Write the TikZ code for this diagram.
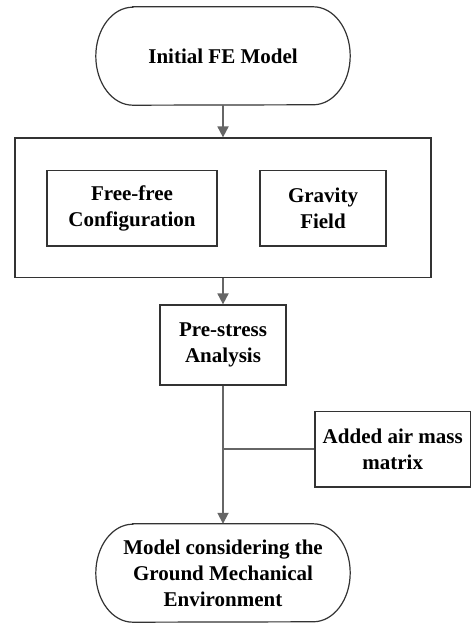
\documentclass[tikz,border=0pt]{standalone}
\usepackage{fontspec}
\setmainfont{Liberation Serif}
\usetikzlibrary{arrows.meta}
\definecolor{edgecol}{HTML}{333333}
\definecolor{arrcol}{HTML}{666666}
\newcommand\drawstadium[1]{%
  \draw[edgecol,line width=1.2pt]
    ([xshift=37pt]#1.north west) -- ([xshift=-37pt]#1.north east)
    arc[start angle=90,end angle=-90,x radius=37pt,y radius=49pt]
    -- ([xshift=37pt]#1.south west)
    arc[start angle=270,end angle=90,x radius=37pt,y radius=49pt] -- cycle;}
\begin{document}
\begin{tikzpicture}[x=1pt,y=1pt,
  every node/.style={font=\fontsize{21}{26}\selectfont\bfseries, align=center, inner sep=0pt},
  boxnode/.style={draw=edgecol, line width=1.2pt},
  stadnode/.style={minimum width=254pt, minimum height=98pt},
  arr/.style={draw=arrcol, line width=1.8pt, -{Triangle[length=11pt,width=11pt]}},
  conn/.style={draw=arrcol, line width=1.8pt}]
\useasboundingbox (0,0) rectangle (472,623);
\node[stadnode] (init) at (223,567) {Initial FE Model};
\drawstadium{init}
\node[boxnode, minimum width=416pt, minimum height=139.6pt] (big) at (223,415.2) {};
\node[boxnode, minimum width=170pt, minimum height=75.3pt] (free) at (132,414.7) {Free-free\\Configuration};
\node[boxnode, minimum width=126pt, minimum height=75.3pt] (grav) at (323,414.7) {Gravity\\Field};
\node[boxnode, minimum width=126pt, minimum height=80pt] (pre) at (223,278) {Pre-stress\\Analysis};
\node[boxnode, minimum width=155.5pt, minimum height=75.3pt] (air) at (392.75,173.7) {Added air mass\\matrix};
\node[stadnode] (final) at (223,50) {Model considering the\\Ground Mechanical\\Environment};
\drawstadium{final}
\draw[arr] (init.south) -- (big.north);
\draw[arr] (big.south) -- (pre.north);
\draw[arr] (pre.south) -- (final.north);
\coordinate (join) at (air.west -| pre.south);
\draw[conn] (air.west) -- (join);
\end{tikzpicture}
\end{document}
